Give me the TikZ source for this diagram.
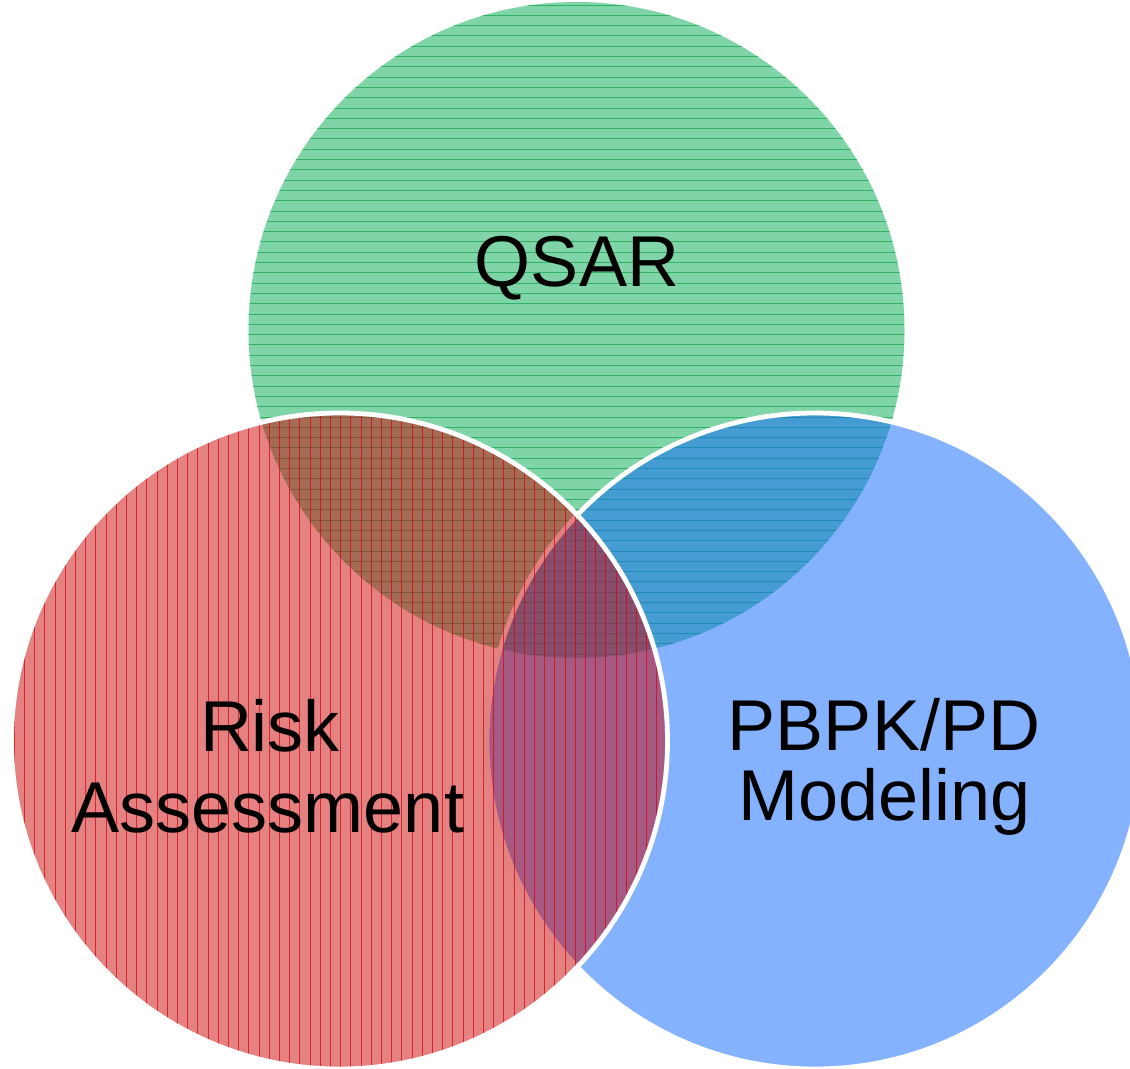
\documentclass[tikz,border=0pt]{standalone}
\usepackage{fontspec}
\setmainfont{Liberation Sans}
\definecolor{qgreen}{RGB}{0,171,81}
\definecolor{qgreenline}{RGB}{30,170,85}
\definecolor{pblue}{RGB}{11,101,255}
\definecolor{rred}{RGB}{203,3,3}
\definecolor{rredline}{RGB}{205,10,20}
\tikzset{
  venntext/.style={font=\fontsize{36pt}{40pt}\selectfont, anchor=base, inner sep=0pt, text=black},
  whiteborder/.style={draw=white, line width=2.4pt},
}
\begin{document}
\begin{tikzpicture}[x=0.5pt,y=-0.5pt]
\useasboundingbox (0,0) rectangle (1130,1069);
\coordinate (G) at (576.5,330);
\coordinate (R) at (339.5,741);
\coordinate (B) at (815,741);
% green circle (QSAR)
\fill[qgreen, fill opacity=0.5] (G) circle[radius=164pt];
\begin{scope}
  \clip (G) circle[radius=164pt];
  \foreach \i in {0,...,64} {
    \draw[qgreenline, line width=0.4pt, draw opacity=0.8] (240,{5+\i*10.3}) -- (920,{5+\i*10.3});
  }
\end{scope}
% blue circle (PBPK/PD)
\fill[pblue, fill opacity=0.5] (B) circle[radius=164pt];
\draw[whiteborder] (B) circle[radius=164pt];
% red circle (Risk Assessment)
\fill[rred, fill opacity=0.5] (R) circle[radius=164pt];
\begin{scope}
  \clip (R) circle[radius=164pt];
  \foreach \i in {0,...,66} {
    \draw[rredline, line width=0.4pt, draw opacity=0.75] ({4+\i*10.2},400) -- ({4+\i*10.2},1080);
  }
\end{scope}
\draw[whiteborder] (R) circle[radius=164pt];
% labels
\node[venntext] (qsar) at (577,287) {QSAR};
\node[venntext] (risk) at (270,751) {Risk};
\node[venntext] (assess) at (268,832) {Assessment};
\node[venntext] (pbpk) at (884,750) {PBPK/PD};
\node[venntext] (model) at (885,820) {Modeling};
\end{tikzpicture}
\end{document}
